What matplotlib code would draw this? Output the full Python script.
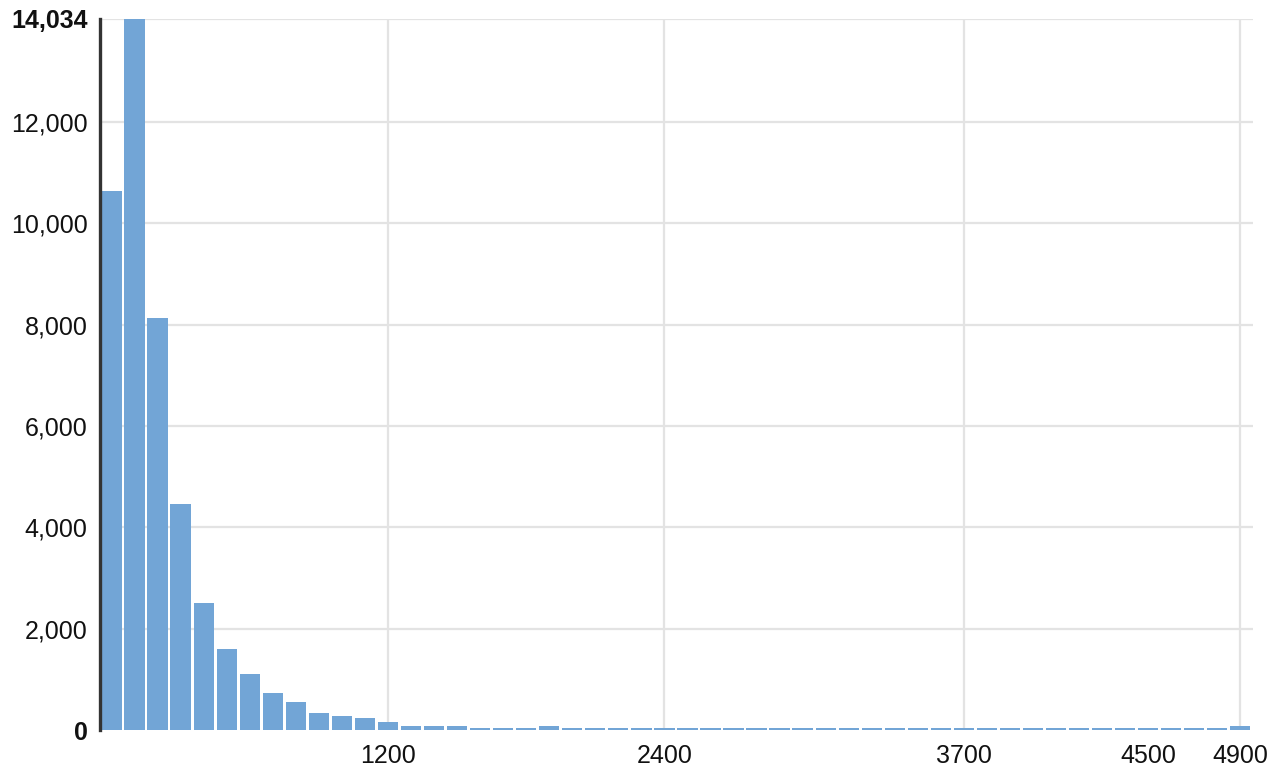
import matplotlib.pyplot as plt
from matplotlib.ticker import FuncFormatter

# ==============================
# Data: histogram counts, one bin per 100 units (bin centres 0..4900)
# ==============================
bin_centers = list(range(0, 5000, 100))
counts = [
    10640, 14034, 8133, 4455, 2501, 1599, 1100, 724, 559, 345,
    286, 231, 162, 80, 73, 85, 35, 35, 30, 85,
    35, 30, 30, 30, 30, 30, 30, 30, 30, 30,
    30, 30, 30, 30, 30, 30, 30, 30, 30, 30,
    30, 30, 30, 30, 30, 30, 30, 30, 30, 88,
]
y_max = 14034
y_ticks = [0, 2000, 4000, 6000, 8000, 10000, 12000, 14034]
x_ticks = [1200, 2400, 3700, 4500, 4900]
x_grid = [1200, 2400, 3700, 4900]

plt.rcParams["font.family"] = ["Liberation Sans", "DejaVu Sans"]

fig = plt.figure(figsize=(12.78, 7.71), dpi=100)
ax = fig.add_axes([100 / 1278, 41 / 771, 1153 / 1278, 711 / 771])

# ==============================
# Grid
# ==============================
for y in y_ticks[1:]:
    ax.axhline(y, color="#e3e3e3", linewidth=1.6, zorder=0)
for x in x_grid:
    ax.axvline(x, color="#e3e3e3", linewidth=1.6, zorder=0)

# ==============================
# Bars
# ==============================
ax.bar(bin_centers, counts, width=88, color="#72a5d6", edgecolor="none", zorder=2)

ax.set_xlim(-50, 4955)
ax.set_ylim(0, y_max)

ax.set_xticks(x_ticks)
ax.set_xticklabels([str(v) for v in x_ticks])
ax.set_yticks(y_ticks)
ax.yaxis.set_major_formatter(FuncFormatter(lambda v, p: "{:,}".format(int(v))))

ax.tick_params(axis="both", length=0, labelsize=18, colors="#111111")
ax.tick_params(axis="y", pad=9)
ax.tick_params(axis="x", pad=10)

# first and last y labels in bold
ylabels = ax.get_yticklabels()
ylabels[0].set_fontweight("bold")
ylabels[-1].set_fontweight("bold")

for side in ["top", "right", "bottom"]:
    ax.spines[side].set_visible(False)
ax.spines["left"].set_color("#333333")
ax.spines["left"].set_linewidth(2.4)
ax.spines["left"].set_zorder(3)

fig.savefig("out.png", dpi=100)
